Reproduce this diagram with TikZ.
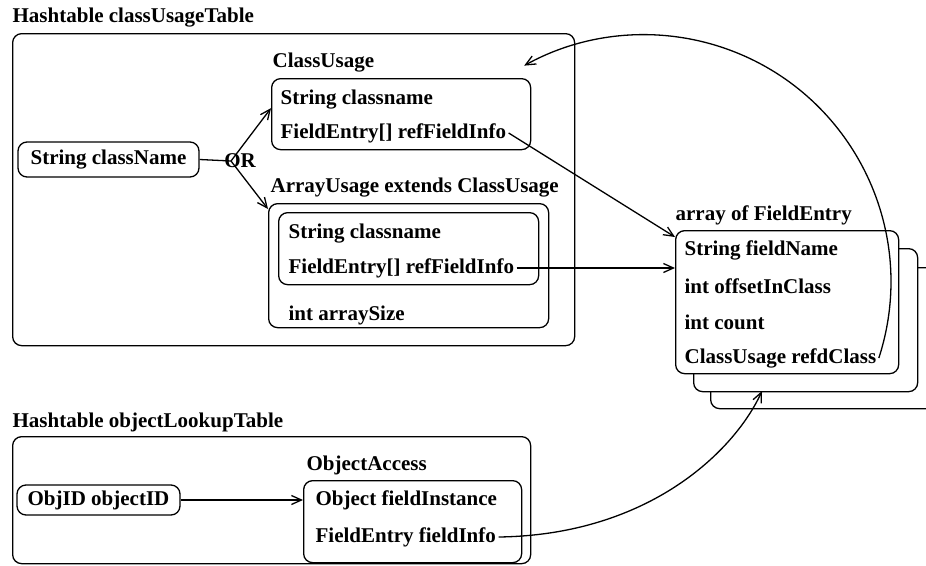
\documentclass[tikz,border=0pt]{standalone}
\usepackage{fontspec}
\setmainfont{Liberation Serif}
\usetikzlibrary{arrows.meta}

\begin{document}
\begin{tikzpicture}[x=1pt, y=-1pt, line width=1.3pt,
    >={Straight Barb[length=10pt,width=9pt]},
    box/.style={draw, rounded corners=9pt, anchor=north west, inner sep=0pt},
    pill/.style={draw, rounded corners=9pt, inner sep=0pt},
    fld/.style={anchor=west, inner xsep=2pt, inner ysep=0pt},
    ttl/.style={anchor=west, inner sep=0pt}]

  \fontsize{21}{24}\selectfont\bfseries

  \newcommand\FX{682}
  \newcommand\FY{36}

  \useasboundingbox (0,0) rectangle (926,565);

  %% classUsageTable
  \node[ttl] (hcu) at (12,18) {Hashtable classUsageTable};
  \node[box, minimum width=562pt, minimum height=312pt] (hcubox) at (12,33) {};

  \node[pill, minimum width=181pt, minimum height=35pt] (cname) at (108.5,159.5) {String className};
  \node (or) at (240,161) {OR};
  \coordinate (orx) at ([xshift=-9pt]or.center);

  \node[ttl] (culbl) at (272,63) {ClassUsage};
  \node[box, minimum width=259pt, minimum height=71pt] (cu) at (271,78) {};
  \node[fld] (ccn) at (278,100) {String classname};
  \node[fld] (cfi) at (278,133) {FieldEntry[] refFieldInfo};

  \node[ttl] (aulbl) at (270,188) {ArrayUsage extends ClassUsage};
  \node[box, minimum width=280pt, minimum height=124pt] (au) at (268,203) {};
  \node[box, minimum width=260pt, minimum height=72pt] (aui) at (278,212) {};
  \node[fld] (acn) at (286,234) {String classname};
  \node[fld] (afi) at (286,268) {FieldEntry[] refFieldInfo};
  \node[fld] (asz) at (286,315) {int arraySize};

  %% array of FieldEntry, stacked
  \node[ttl] (felbl) at (675,215) {array of FieldEntry};
  \node[box, fill=white, minimum width=235pt, minimum height=141pt] (fe3) at (710,267) {};
  \node[box, fill=white, minimum width=224pt, minimum height=143pt] (fe2) at (693,248) {};
  \node[box, fill=white, minimum width=223pt, minimum height=143pt] (fe1) at (675,230) {};
  \node[fld] (fnm) at (\FX, 250) {String fieldName};
  \node[fld] (fof) at (\FX, 250+\FY) {int offsetInClass};
  \node[fld] (fcnt) at (\FX, 250+2*\FY) {int count};
  \node[fld] (refd) at (\FX, 250+3*\FY) {ClassUsage refdClass};

  %% objectLookupTable
  \node[ttl] (hol) at (12,422) {Hashtable objectLookupTable};
  \node[box, minimum width=518pt, minimum height=127pt] (holbox) at (12,436) {};
  \node[pill, minimum width=163pt, minimum height=30pt] (oid) at (98.5,500) {ObjID objectID};
  \node[ttl] (oalbl) at (306,465) {ObjectAccess};
  \node[box, minimum width=218pt, minimum height=82pt] (oa) at (303,480) {};
  \node[fld] (ofi) at (313,500) {Object fieldInstance};
  \node[fld] (ofe) at (313,537) {FieldEntry fieldInfo};
  \coordinate (hit) at (762,391);

  \draw (cname.east) -- (orx);
  \draw[->] (orx) -- ([yshift=6pt]cu.west); %% OR->ClassUsage
  \draw[->] (orx) -- ([yshift=-6pt]au.north west); %% OR->ArrayUsage

  \draw[->] (cfi.east) -- ([yshift=-7pt]fe1.north west);
  \draw[->] (afi.east) -- (afi.east -| fe1.west);
  \draw[->] (refd.east) arc[start angle=-18, end angle=119, radius=247pt]; %% back to ClassUsage

  \draw[->] (oid.east) -- (oid.east -| oa.west);
  \draw[->] (ofe.east) .. controls (650,535) and (735,450) .. (hit);
\end{tikzpicture}
\end{document}
